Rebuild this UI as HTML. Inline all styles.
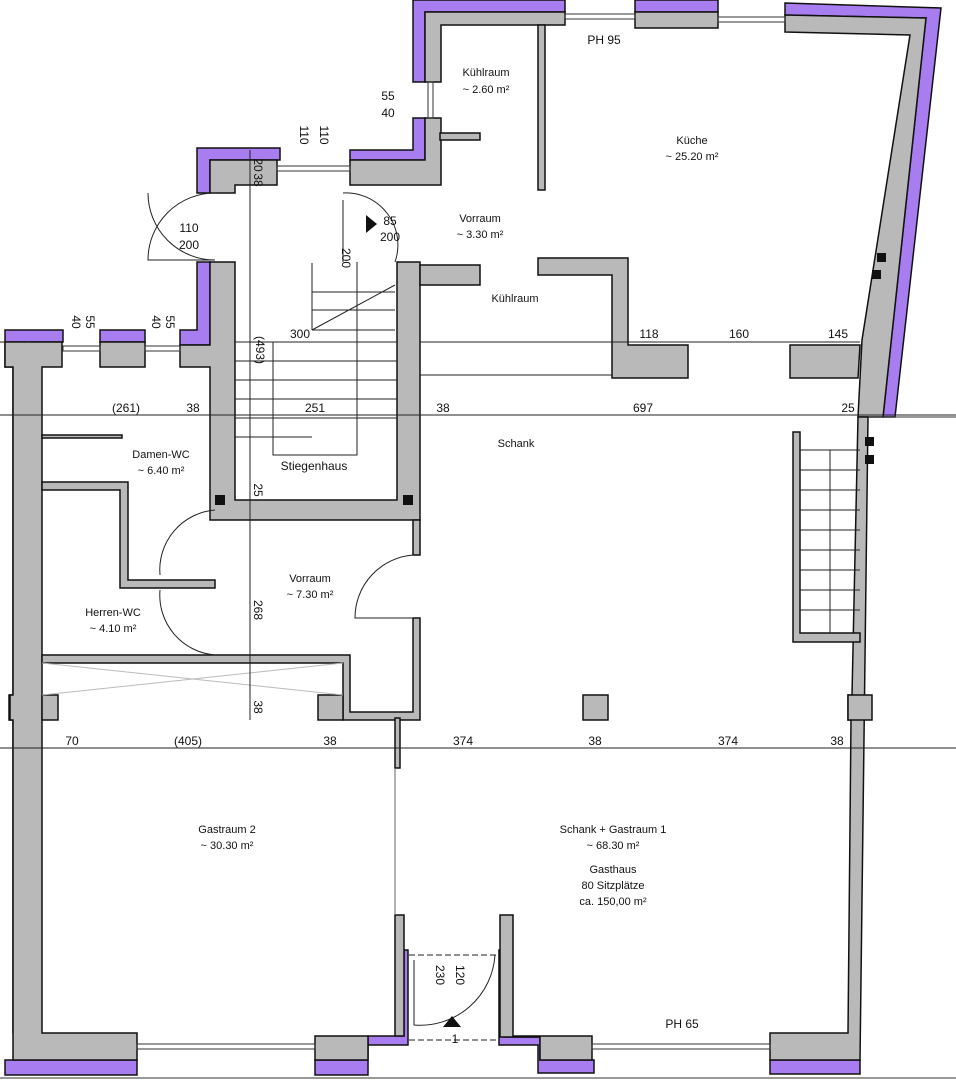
<!DOCTYPE html>
<html><head><meta charset="utf-8"><style>
html,body{margin:0;padding:0;background:#fff;}
svg{display:block;}
text{font-family:"Liberation Sans",sans-serif;fill:#111;}
</style></head><body>
<svg width="956" height="1080" viewBox="0 0 956 1080" xmlns="http://www.w3.org/2000/svg">
<g stroke="#111" stroke-width="1.5">
<!-- purple outer -->
<g fill="#a77df0">
<polygon points="413,0 565,0 565,12 425,12 425,82 413,82"/>
<polygon points="635,0 718,0 718,12 635,12"/>
<polygon points="785,3 941,8 895,417 883,417 926,18 785,15"/>
<polygon points="413,118 425,118 425,160 350,160 350,150 413,150"/>
<polygon points="197,148 280,148 280,160 210,160 210,193 197,193"/>
<polygon points="197,262 210,262 210,345 180,345 180,330 197,330"/>
<polygon points="5,330 63,330 63,342 5,342"/>
<polygon points="100,330 145,330 145,342 100,342"/>
<polygon points="5,342 27,342 27,1033 13,1033 13,720 9,720 9,695 13,695 13,367 5,367"/>
<polygon points="5,1060 137,1060 137,1075 5,1075"/>
<polygon points="315,1060 368,1060 368,1045 408,1045 408,950 404,950 404,1036 368,1036 368,1075 315,1075"/>
<polygon points="499,950 504,950 504,1037 540,1037 540,1060 594,1060 594,1073 538,1073 538,1045 499,1045"/>
<polygon points="770,1060 860,1060 860,1074 770,1074"/>
</g>
<!-- gray walls -->
<g fill="#b9b9b9">
<polygon points="425,12 565,12 565,25 441,25 441,82 425,82"/>
<polygon points="635,12 718,12 718,28 635,28"/>
<polygon points="785,15 926,18 883,417 858,417 862,340 910,35 785,32"/>
<polygon points="425,118 441,118 441,185 350,185 350,160 425,160"/>
<polygon points="210,160 277,160 277,185 235,185 235,193 210,193"/>
<polygon points="210,262 235,262 235,500 397,500 397,262 420,262 420,520 210,520 210,367 180,367 180,345 210,345"/>
<polygon points="5,342 62,342 62,367 42,367 42,1033 137,1033 137,1060 13,1060 13,720 10,720 10,695 13,695 13,367 5,367"/>
<polygon points="100,342 145,342 145,367 100,367"/>
<polygon points="420,265 480,265 480,285 420,285"/>
<polygon points="538,258 628,258 628,345 688,345 688,378 612,378 612,275 538,275"/>
<polygon points="790,345 860,345 858,378 790,378"/>
<polygon points="538,25 545,25 545,190 538,190"/>
<polygon points="440,133 480,133 480,140 440,140"/>
<polygon points="42,482 128,482 128,580 215,580 215,588 120,588 120,490 42,490"/>
<polygon points="42,655 350,655 350,712 413,712 413,618 420,618 420,720 343,720 343,663 42,663"/>
<polygon points="413,520 420,520 420,555 413,555"/>
<polygon points="42,695 58,695 58,720 42,720"/>
<polygon points="318,695 343,695 343,720 318,720"/>
<polygon points="583,695 608,695 608,720 583,720"/>
<polygon points="858,417 868,417 860,1060 770,1060 770,1033 848,1033 851,720 848,720 848,695 852,695"/>
<polygon points="848,695 872,695 872,720 848,720"/>
<polygon points="793,432 800,432 800,633 860,633 860,642 793,642"/>
<polygon points="315,1036 368,1036 368,1060 315,1060"/>
<polygon points="395,915 404,915 404,1036 395,1036"/>
<polygon points="500,915 513,915 513,1036 592,1036 592,1060 540,1060 540,1037 500,1037"/>
<polygon points="42,435 122,435 122,438 42,438"/>
<polygon points="395,718 400,718 400,768 395,768"/>
</g>
</g>
<!-- windows -->
<g stroke="#333" stroke-width="1" fill="none">
<rect x="565" y="14" width="70" height="5"/><rect x="718" y="17" width="67" height="5"/>
<rect x="277" y="166" width="73" height="5"/><rect x="63" y="346" width="37" height="5"/><rect x="145" y="346" width="35" height="5"/>
<rect x="428" y="82" width="5" height="36"/>
<rect x="137" y="1044" width="178" height="5"/><rect x="592" y="1044" width="178" height="5"/>
<line x1="0" y1="1078" x2="956" y2="1078"/>
<line x1="868" y1="417" x2="956" y2="417"/>
</g>
<!-- stairs -->
<g stroke="#222" stroke-width="1" fill="none">
<path d="M235 342H397M235 361H397M235 380H397M235 399H397M235 418H397M235 437H312M312 263V330M312 330L395 285M312 292H395M312 310H395M312 330H395M273 342V455H357V262"/>
<path d="M800 450H860M800 470H860M800 490H860M800 510H860M800 530H860M800 550H860M800 570H860M800 590H860M800 610H860M830 450V633"/>
<path d="M420 342H612" stroke-dasharray="5,3"/><path d="M420 375H612"/>
<path d="M42 663L343 695M42 695L343 663" stroke="#bbb"/>
<path d="M0 342H30M0 415H956M0 748H956M250 150V720M420 342H860"/>
<path d="M409 955H497M409 1040H497" stroke-dasharray="6,3"/>
<path d="M395 768V915" stroke="#666"/>
</g>
<!-- doors -->
<g stroke="#222" stroke-width="1" fill="none">
<path d="M215 193A67 67 0 0 0 148 260H215"/>
<path d="M215 260A67 67 0 0 1 148 193"/>
<path d="M215 510A60 60 0 0 0 160 575"/>
<path d="M215 655A60 60 0 0 1 160 590"/>
<path d="M413 555A63 63 0 0 0 355 618H413"/>
<path d="M343 193A52 52 0 0 1 395 262M343 200V262"/>
<path d="M414 960V1025A75 75 0 0 0 495 955"/>
</g>
<polygon points="366,215 377,224 366,233" fill="#111"/>
<polygon points="443,1027 461,1027 452,1016" fill="#111"/>
<!-- shaft markers -->
<g fill="#111"><rect x="215" y="495" width="10" height="10"/><rect x="403" y="495" width="10" height="10"/><rect x="877" y="253" width="9" height="9"/><rect x="872" y="270" width="9" height="9"/><rect x="865" y="437" width="9" height="9"/><rect x="865" y="455" width="9" height="9"/></g>
<!-- labels -->
<g font-size="11" text-anchor="middle">
<text x="486" y="76">Kühlraum</text><text x="486" y="93">~ 2.60 m²</text>
<text x="692" y="144">Küche</text><text x="692" y="160">~ 25.20 m²</text>
<text x="480" y="222">Vorraum</text><text x="480" y="238">~ 3.30 m²</text>
<text x="515" y="302">Kühlraum</text>
<text x="516" y="447">Schank</text>
<text x="314" y="470" font-size="12">Stiegenhaus</text>
<text x="161" y="458">Damen-WC</text><text x="161" y="474">~ 6.40 m²</text>
<text x="113" y="616">Herren-WC</text><text x="113" y="632">~ 4.10 m²</text>
<text x="310" y="582">Vorraum</text><text x="310" y="598">~ 7.30 m²</text>
<text x="227" y="833">Gastraum 2</text><text x="227" y="849">~ 30.30 m²</text>
<text x="613" y="833">Schank + Gastraum 1</text><text x="613" y="849">~ 68.30 m²</text>
<text x="613" y="873">Gasthaus</text><text x="613" y="889">80 Sitzplätze</text><text x="613" y="905">ca. 150,00 m²</text>
<text x="604" y="44" font-size="12">PH 95</text><text x="682" y="1028" font-size="12">PH 65</text>
<text x="300" y="338" font-size="12">300</text><text x="649" y="338" font-size="12">118</text><text x="739" y="338" font-size="12">160</text><text x="838" y="338" font-size="12">145</text>
<text x="126" y="412" font-size="12">(261)</text><text x="193" y="412" font-size="12">38</text><text x="315" y="412" font-size="12">251</text><text x="443" y="412" font-size="12">38</text><text x="643" y="412" font-size="12">697</text><text x="848" y="412" font-size="12">25</text>
<text x="72" y="745" font-size="12">70</text><text x="188" y="745" font-size="12">(405)</text><text x="330" y="745" font-size="12">38</text><text x="463" y="745" font-size="12">374</text><text x="595" y="745" font-size="12">38</text><text x="728" y="745" font-size="12">374</text><text x="837" y="745" font-size="12">38</text>
<text x="388" y="100" font-size="12">55</text><text x="388" y="117" font-size="12">40</text>
<text x="189" y="232" font-size="12">110</text><text x="189" y="249" font-size="12">200</text>
<text x="390" y="225" font-size="12">85</text><text x="390" y="241" font-size="12">200</text>
<text x="455" y="1043" font-size="12">1</text>
</g>
<g font-size="12" text-anchor="middle">
<text transform="translate(300,135) rotate(90)">110</text><text transform="translate(320,135) rotate(90)">110</text>
<text transform="translate(254,165) rotate(90)">20</text><text transform="translate(254,180) rotate(90)">38</text>
<text transform="translate(256,350) rotate(90)">(493)</text><text transform="translate(254,490) rotate(90)">25</text>
<text transform="translate(254,610) rotate(90)">268</text><text transform="translate(254,707) rotate(90)">38</text>
<text transform="translate(342,258) rotate(90)">200</text>
<text transform="translate(72,322) rotate(90)">40</text><text transform="translate(86,322) rotate(90)">55</text>
<text transform="translate(152,322) rotate(90)">40</text><text transform="translate(166,322) rotate(90)">55</text>
<text transform="translate(436,975) rotate(90)">230</text><text transform="translate(456,975) rotate(90)">120</text>
</g>
</svg>
</body></html>
